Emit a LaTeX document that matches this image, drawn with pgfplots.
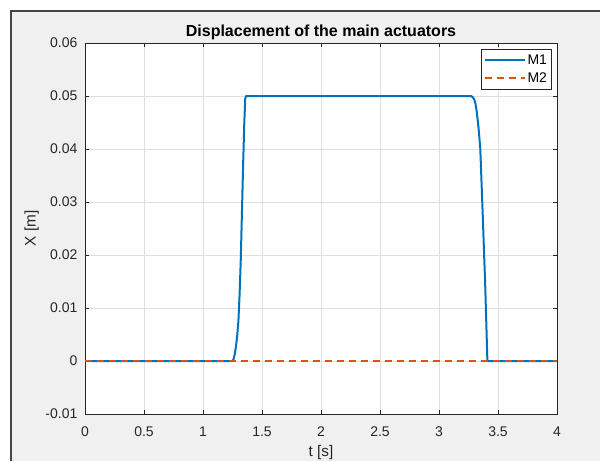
\documentclass[border=0pt]{standalone}
\usepackage{fontspec}
\setmainfont{Liberation Sans}
\usepackage{pgfplots}
\pgfplotsset{compat=1.18}
\usepackage{pgfplotstable}

\definecolor{mblue}{RGB}{0,114,189}
\definecolor{morange}{RGB}{217,83,25}
\definecolor{axcol}{RGB}{38,38,38}
\definecolor{figgray}{RGB}{240,240,240}
\definecolor{bordercol}{RGB}{70,70,70}
\definecolor{gridcol}{RGB}{223,223,223}

% actuator displacement
\pgfplotstableread{
t x
0 0
1.25 0
1.26 0.0004
1.27 0.0014
1.28 0.0029
1.29 0.0048
1.30 0.0075
1.31 0.0125
1.32 0.019
1.33 0.028
1.34 0.037
1.35 0.045
1.358 0.0495
1.365 0.05
3.27 0.05
3.285 0.0498
3.30 0.0493
3.31 0.0485
3.32 0.047
3.335 0.044
3.35 0.040
3.36 0.034
3.37 0.028
3.38 0.0215
3.39 0.0155
3.40 0.0078
3.41 0
4 0
}\mone
\pgfplotstableread{
t x
0 0
4 0
}\mtwo

\begin{document}
\begin{tikzpicture}
% figure window: white margin, gray panel with a dark edge
\path[use as bounding box, fill=white] (-63.75pt,-35.25pt) rectangle (386.25pt,310.5pt);
\fill[figgray] (-55.5pt,-35.25pt) rectangle (386.25pt,302.25pt);
\draw[bordercol, line width=1.2pt] (-55.5pt,-35.25pt) -- (-55.5pt,302.25pt) -- (386.25pt,302.25pt);
\begin{axis}[
    scale only axis,
    width=354pt, height=278.25pt,
    at={(0,0)}, anchor=south west,
    xmin=0, xmax=4,
    ymin=-0.01, ymax=0.06,
    scaled y ticks=false, scaled x ticks=false,
    xtick={0,0.5,1,1.5,2,2.5,3,3.5,4},
    xticklabels={0,0.5,1,1.5,2,2.5,3,3.5,4},
    ytick={-0.01,0,0.01,0.02,0.03,0.04,0.05,0.06},
    yticklabels={-0.01,0,0.01,0.02,0.03,0.04,0.05,0.06},
    axis background/.style={fill=white},
    axis line style={axcol, line width=0.5pt},
    tick align=inside,
    major tick length=3pt,
    every tick/.style={axcol, line width=0.5pt},
    grid=major,
    major grid style={gridcol, line width=0.5pt},
    tick label style={font=\fontsize{10.5}{12}\selectfont, text=axcol, inner sep=0pt},
    xticklabel style={anchor=north, yshift=-9.4pt},
    yticklabel style={anchor=east, xshift=-5.5pt},
    title={\bfseries Displacement of the main actuators},
    every axis title shift=0pt,
    title style={at={(axis description cs:0.5,1)}, anchor=base, yshift=5.25pt,
                 font=\fontsize{12}{14}\selectfont, text=black},
    xlabel={t [s]},
    ylabel={X [m]},
    label style={font=\fontsize{11.5}{13}\selectfont, text=axcol},
    xlabel style={at={(axis description cs:0.5,-0.105)}, anchor=center},
    ylabel style={at={(axis description cs:-0.113,0.5)}, anchor=center},
    legend style={at={(axis description cs:0.9894,0.984)}, anchor=north east,
                  draw=axcol, line width=0.5pt, fill=white,
                  font=\fontsize{10.5}{12}\selectfont, text=black,
                  inner xsep=2pt, inner ysep=2.5pt, row sep=1.5pt,
                  nodes={inner sep=1.5pt}},
    legend cell align=left,
    legend image code/.code={\draw[#1] (0pt,0pt) -- (30pt,0pt);},
]
\addplot[mblue, line width=1.5pt, line join=round] table[x=t, y=x] {\mone};
\addlegendentry{M1}
\addplot[morange, line width=1.5pt, dash pattern=on 5.5pt off 3.5pt] table[x=t, y=x] {\mtwo};
\addlegendentry{M2}
\end{axis}
\end{tikzpicture}
\end{document}
